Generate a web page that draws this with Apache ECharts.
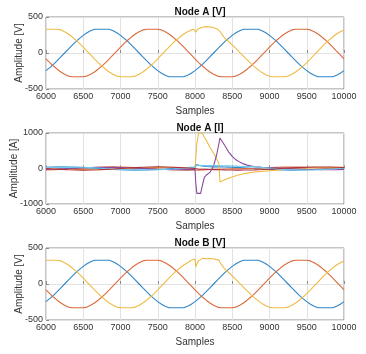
<!DOCTYPE html>
<html>
<head>
<meta charset="utf-8">
<script src="https://cdn.jsdelivr.net/npm/echarts@6/dist/echarts.min.js"></script>
<style>
  html, body { margin: 0; padding: 0; background: #fff; }
  #main { width: 366px; height: 354px; }
</style>
</head>
<body>
<div id="main"></div>
<script>
// sample index for the voltage traces (step 50)
var samples = [6000,6050,6100,6150,6200,6250,6300,6350,6400,6450,6500,6550,6600,6650,6700,6750,6800,6850,6900,6950,
  7000,7050,7100,7150,7200,7250,7300,7350,7400,7450,7500,7550,7600,7650,7700,7750,7800,7850,7900,7950,
  8000,8050,8100,8150,8200,8250,8300,8350,8400,8450,8500,8550,8600,8650,8700,8750,8800,8850,8900,8950,
  9000,9050,9100,9150,9200,9250,9300,9350,9400,9450,9500,9550,9600,9650,9700,9750,9800,9850,9900,9950,10000];

// phase voltages, same at node A and node B
var vBlue = [-245,-204,-158,-107,-54,0,54,107,158,204,245,281,309,330,330,330,330,330,309,281,
  245,204,158,107,54,0,-54,-107,-158,-204,-245,-281,-309,-330,-330,-330,-330,-330,-309,-281,
  -245,-204,-158,-107,-54,0,54,107,158,204,245,281,309,330,330,330,330,330,309,281,
  245,204,158,107,54,0,-54,-107,-158,-204,-245,-281,-309,-330,-330,-330,-330,-330,-309,-281,-245];
var vOrange = [-81,-133,-181,-225,-264,-296,-321,-330,-330,-330,-330,-321,-296,-264,-225,-181,-133,-81,-27,27,
  81,133,181,225,264,296,321,330,330,330,330,321,296,264,225,181,133,81,27,-27,
  -81,-133,-181,-225,-264,-296,-321,-330,-330,-330,-330,-321,-296,-264,-225,-181,-133,-81,-27,27,
  81,133,181,225,264,296,321,330,330,330,330,321,296,264,225,181,133,81,27,-27,-81];

// yellow phase has the fault disturbance, so it gets its own sample points
var yellowASamples = [6000,6050,6100,6150,6200,6250,6300,6350,6400,6450,6500,6550,6600,6650,6700,6750,6800,6850,6900,6950,
  7000,7050,7100,7150,7200,7250,7300,7350,7400,7450,7500,7550,7600,7650,7700,7750,7800,7850,7900,7950,
  7980,8000,8015,8030,8060,8100,8150,8200,8250,8300,8340,8370,8400,
  8450,8500,8550,8600,8650,8700,8750,8800,8850,8900,8950,9000,9050,9100,9150,9200,
  9250,9300,9350,9400,9450,9500,9550,9600,9650,9700,9750,9800,9850,9900,9950,10000];
var yellowAValues = [330,330,330,330,321,296,264,225,181,133,81,27,-27,-81,-133,-181,-225,-264,-296,-321,
  -330,-330,-330,-330,-321,-296,-264,-225,-181,-133,-81,-27,27,81,133,181,225,264,296,321,
  330,328,290,322,342,358,366,362,352,332,292,245,205,
  160,112,62,10,-42,-95,-145,-192,-235,-272,-302,-322,-330,-330,-330,-330,
  -321,-296,-264,-225,-181,-133,-81,-27,27,81,133,181,225,264,296,321];

var yellowBSamples = [6000,6050,6100,6150,6200,6250,6300,6350,6400,6450,6500,6550,6600,6650,6700,6750,6800,6850,6900,6950,
  7000,7050,7100,7150,7200,7250,7300,7350,7400,7450,7500,7550,7600,7650,7700,7750,7800,7850,7900,7950,
  7975,8000,8010,8025,8050,8075,8100,8150,8175,8200,8250,8280,8300,8320,8340,8370,8400,
  8450,8500,8550,8600,8650,8700,8750,8800,8850,8900,8950,9000,9050,9100,9150,9200,
  9250,9300,9350,9400,9450,9500,9550,9600,9650,9700,9750,9800,9850,9900,9950,10000];
var yellowBValues = [330,330,330,330,321,296,264,225,181,133,81,27,-27,-81,-133,-181,-225,-264,-296,-321,
  -330,-330,-330,-330,-321,-296,-264,-225,-181,-133,-81,-27,27,81,133,181,225,264,296,330,
  340,346,238,282,325,348,356,350,362,354,350,342,318,332,295,248,208,
  160,112,62,10,-42,-95,-145,-192,-235,-272,-302,-322,-330,-330,-330,-330,
  -321,-296,-264,-225,-181,-133,-81,-27,27,81,133,181,225,264,296,321];

// node A currents
var currentSamples = [6000,6100,6200,6300,6400,6500,6600,6700,6800,6900,7000,7100,7200,7300,7400,7500,7600,7700,7800,7900,
  7950,8000,8010,8025,8050,8075,8100,8125,8150,8200,8250,8290,8320,8335,8350,8400,8450,8500,8550,8600,8650,
  8700,8800,8900,9000,9100,9200,9300,9400,9500,9600,9700,9800,9900,10000];
var iBlue = [36,43,45,43,36,26,14,0,-14,-26,-36,-43,-45,-43,-36,-26,-14,0,14,26,
  31,36,110,100,88,78,70,62,56,50,47,46,45,45,45,44,40,36,32,26,20,
  14,0,-14,-26,-36,-43,-45,-43,-36,-26,-14,0,14,26];
var iOrange = [-43,-36,-26,-14,0,14,26,36,43,45,43,36,26,14,0,-14,-26,-36,-43,-45,
  -44,-43,-60,-50,-45,-42,-38,-36,-34,-30,-26,-24,-22,-21,-20,-15,-12,-10,-8,-6,-4,
  -2,5,15,25,33,38,40,38,33,25,14,2,-10,-22];
var iYellow = [11,0,-11,-21,-28,-33,-35,-33,-28,-21,-11,0,11,21,28,33,35,33,28,21,
  16,11,300,700,1020,1060,980,880,800,600,430,280,150,-380,-375,-320,-275,-240,-205,-175,-150,
  -130,-100,-80,-62,-45,-30,-15,0,10,20,28,33,35,33];
var iPurple = [-28,-21,-11,0,11,21,28,33,35,33,28,21,11,0,-11,-21,-28,-33,-35,-33,
  -32,-28,-400,-700,-755,-700,-470,-250,-190,-110,80,380,690,860,905,650,470,340,245,180,130,
  95,50,35,25,15,5,-5,-15,-25,-30,-33,-35,-33,-28];
var iCyan = [25,34,40,42,40,34,25,13,0,-13,-25,-34,-40,-42,-40,-34,-25,-13,0,13,
  19,25,70,95,90,88,86,85,84,82,80,80,79,79,78,76,74,70,67,63,58,
  54,45,30,12,-8,-25,-36,-42,-42,-38,-30,-18,-5,8];
var iRed = [0,-14,-26,-36,-43,-45,-43,-36,-26,-14,0,14,26,36,43,45,43,36,26,14,
  7,0,-15,-20,-20,-20,-22,-23,-25,-28,-31,-33,-35,-36,-37,-40,-42,-44,-45,-45,-44,
  -43,-38,-30,-20,-8,5,18,28,36,42,44,42,36,26];

var titles = ['Node A [V]', 'Node A [I]', 'Node B [V]'];
var yNames = ['Amplitude [V]', 'Amplitude [A]', 'Amplitude [V]'];

var BLUE = '#2f86c8', ORANGE = '#dc6a3c', YELLOW = '#efbb45', PURPLE = '#8a4a9c', CYAN = '#6cc8ee', DRED = '#b0303f';
var FONT = 'Liberation Sans';

function pairs(xs, ys) {
  return xs.map(function (x, i) { return [x, ys[i]]; });
}

var gridTops = [17, 133, 248];
var gridH = [72, 71, 72];
var yGaps = [22, 27, 22];

var grids = [], xAxes = [], yAxes = [], titleList = [];
for (var g = 0; g < 3; g++) {
  grids.push({
    left: 46, right: 22, top: gridTops[g], height: gridH[g],
    show: true, borderColor: '#8a8a8a', borderWidth: 1, backgroundColor: 'transparent'
  });
  xAxes.push({
    gridIndex: g, type: 'value', min: 6000, max: 10000, interval: 500,
    name: 'Samples', nameLocation: 'middle', nameGap: 17, nameMoveOverlap: false,
    nameTextStyle: { fontFamily: FONT, fontSize: 10, color: '#333' },
    axisLine: { show: false },
    axisTick: { show: true, inside: true, length: 3, lineStyle: { color: '#8a8a8a' } },
    axisLabel: { fontFamily: FONT, fontSize: 9, color: '#333', margin: 3, formatter: function (v) { return String(v); } },
    splitLine: { show: true, lineStyle: { color: '#e2e2e2', width: 1 } }
  });
  var lim = g === 1 ? 1000 : 500;
  yAxes.push({
    gridIndex: g, type: 'value', min: -lim, max: lim, interval: lim,
    name: yNames[g], nameLocation: 'middle', nameGap: yGaps[g], nameMoveOverlap: false,
    nameTextStyle: { fontFamily: FONT, fontSize: 10, color: '#333' },
    axisLine: { show: false },
    axisTick: { show: true, inside: true, length: 3, lineStyle: { color: '#8a8a8a' } },
    axisLabel: { fontFamily: FONT, fontSize: 9, color: '#333', margin: 3, formatter: function (v) { return String(v); } },
    splitLine: { show: true, lineStyle: { color: '#e2e2e2', width: 1 } }
  });
  titleList.push({
    text: titles[g], left: 195, textAlign: 'center', top: gridTops[g] - 15,
    textStyle: { fontFamily: FONT, fontSize: 10, fontWeight: 'bold', color: '#111' }
  });
}

function line(data, color, gi) {
  return {
    type: 'line', data: data, xAxisIndex: gi, yAxisIndex: gi,
    showSymbol: false, symbol: 'none', clip: true, silent: true,
    lineStyle: { color: color, width: 1.1 }
  };
}

var option = {
  animation: false,
  backgroundColor: '#fff',
  title: titleList,
  grid: grids,
  xAxis: xAxes,
  yAxis: yAxes,
  series: [
    line(pairs(samples, vBlue), BLUE, 0),
    line(pairs(samples, vOrange), ORANGE, 0),
    line(pairs(yellowASamples, yellowAValues), YELLOW, 0),

    line(pairs(currentSamples, iBlue), BLUE, 1),
    line(pairs(currentSamples, iOrange), ORANGE, 1),
    line(pairs(currentSamples, iYellow), YELLOW, 1),
    line(pairs(currentSamples, iPurple), PURPLE, 1),
    line(pairs(currentSamples, iCyan), CYAN, 1),
    line(pairs(currentSamples, iRed), DRED, 1),

    line(pairs(samples, vBlue), BLUE, 2),
    line(pairs(samples, vOrange), ORANGE, 2),
    line(pairs(yellowBSamples, yellowBValues), YELLOW, 2)
  ]
};

var chart = echarts.init(document.getElementById('main'), null, { renderer: 'canvas' });
chart.setOption(option);
</script>
</body>
</html>
